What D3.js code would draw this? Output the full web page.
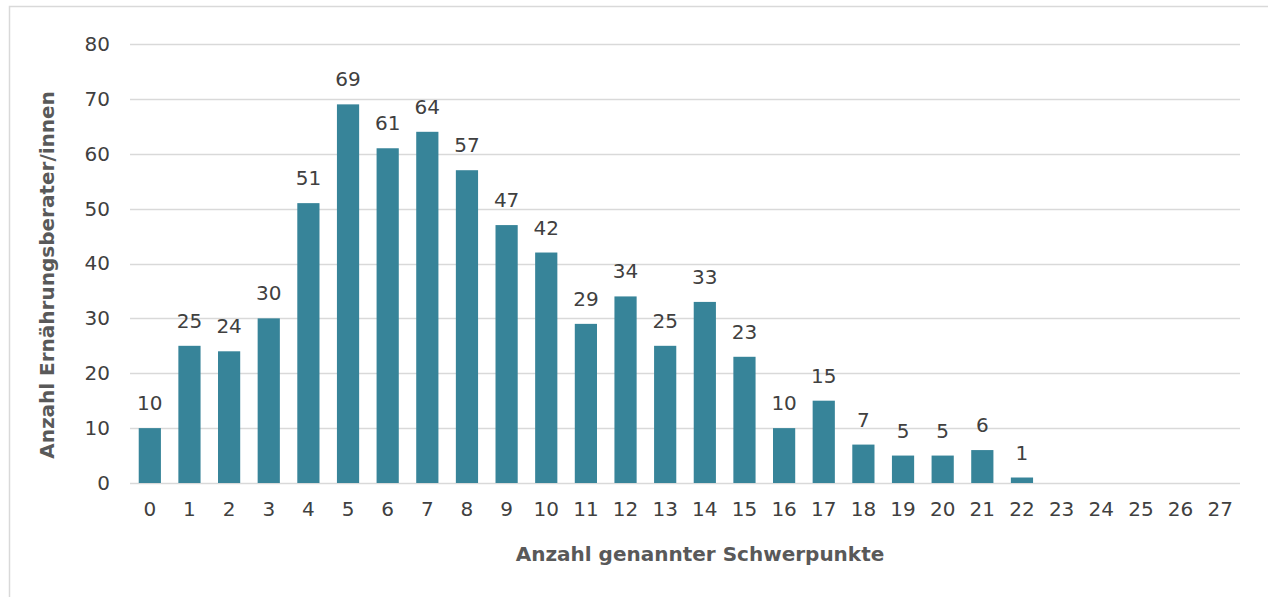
<!DOCTYPE html>
<html><head><meta charset="utf-8">
<script src="https://cdn.jsdelivr.net/npm/d3@7"></script>
<style>
html,body{margin:0;padding:0;background:#fff;}
svg{display:block;}
</style></head>
<body>
<script>
const categories = ["0","1","2","3","4","5","6","7","8","9","10","11","12","13","14","15","16","17","18","19","20","21","22","23","24","25","26","27"];
const values = [10,25,24,30,51,69,61,64,57,47,42,29,34,25,33,23,10,15,7,5,5,6,1,null,null,null,null,null];
const yTicks = [0,10,20,30,40,50,60,70,80];
const xTitle = "Anzahl genannter Schwerpunkte";
const yTitle = "Anzahl Ernährungsberater/innen";

const W = 1268, H = 597;
const m = {left:130, right:28, top:44, bottom:114};
const svg = d3.select("body").append("svg").attr("width",W).attr("height",H);
const font = "DejaVu Sans, Verdana, sans-serif";
const fs = 20;

svg.append("rect").attr("x",9.5).attr("y",6.5).attr("width",W).attr("height",H)
  .attr("fill","#fff").attr("stroke","#d9d9d9").attr("stroke-width",1.5);

const x = d3.scaleBand().domain(categories).range([m.left, W-m.right]).paddingInner(0.44).paddingOuter(0.22);
const y = d3.scaleLinear().domain([0,80]).range([H-m.bottom, m.top]);

const g = svg.append("g");
g.selectAll("line.grid").data(yTicks).join("line").attr("class","grid")
  .attr("x1",m.left).attr("x2",W-m.right).attr("y1",d=>Math.round(y(d))+0.5).attr("y2",d=>Math.round(y(d))+0.5)
  .attr("stroke","#d9d9d9").attr("stroke-width",1.5);

const yAxis = d3.axisLeft(y).tickValues(yTicks).tickSize(0).tickPadding(20);
const ya = svg.append("g").attr("transform",`translate(${m.left},0)`).call(yAxis);
ya.select(".domain").remove();
ya.selectAll("text").attr("font-family",font).attr("font-size",fs).attr("fill","#404040");

const xAxis = d3.axisBottom(x).tickSize(0).tickPadding(19);
const xa = svg.append("g").attr("transform",`translate(0,${H-m.bottom})`).call(xAxis);
xa.select(".domain").remove();
xa.selectAll("text").attr("font-family",font).attr("font-size",fs).attr("fill","#404040");

const data = categories.map((c,i)=>({c, v: values[i]})).filter(d=>d.v!=null);
svg.selectAll("rect.bar").data(data).join("rect").attr("class","bar")
  .attr("x",d=>x(d.c)).attr("width",x.bandwidth())
  .attr("y",d=>y(d.v)).attr("height",d=>y(0)-y(d.v))
  .attr("fill","#378499");

svg.selectAll("text.lbl").data(data).join("text").attr("class","lbl")
  .attr("x",d=>x(d.c)+x.bandwidth()/2).attr("y",d=>y(d.v)-18)
  .attr("text-anchor","middle").attr("font-family",font).attr("font-size",fs).attr("fill","#404040")
  .text(d=>d.v);

svg.append("text").attr("x",700).attr("y",561)
  .attr("text-anchor","middle").attr("font-family",font).attr("font-size",fs).attr("font-weight","bold")
  .attr("fill","#595959").text(xTitle);

svg.append("text").attr("transform",`translate(54,275) rotate(-90)`)
  .attr("text-anchor","middle").attr("font-family",font).attr("font-size",fs).attr("font-weight","bold")
  .attr("fill","#595959").text(yTitle);
</script>
</body></html>
